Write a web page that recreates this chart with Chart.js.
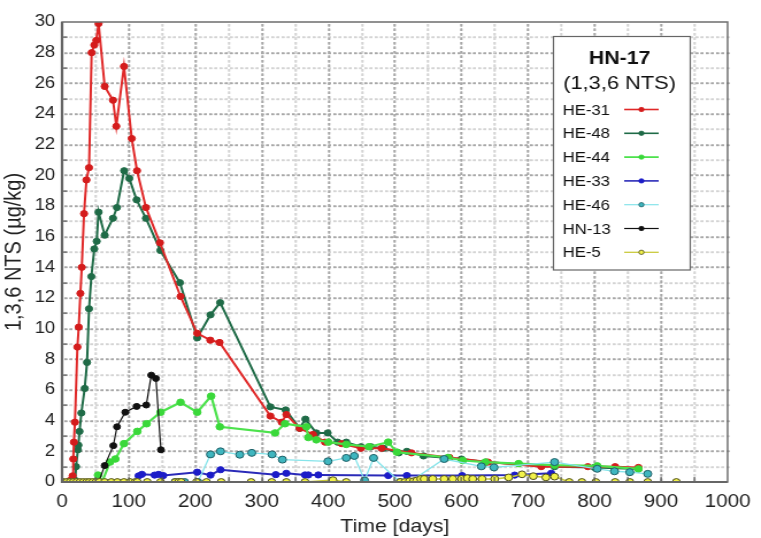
<!DOCTYPE html>
<html><head><meta charset="utf-8">
<script src="https://cdn.jsdelivr.net/npm/chart.js@4"></script>
<style>
html,body{margin:0;padding:0;background:#fff;overflow:hidden;}
#wrap{width:662px;height:538px;transform:scaleX(1.1495);transform-origin:0 0;}
canvas{display:block;}
</style></head><body>
<div id="wrap"><canvas id="c" width="662" height="538"></canvas></div>
<script>
// ---- data (days, µg/kg) ----
const seriesNames = ['HE-31','HE-48','HE-44','HE-33','HE-46','HN-13','HE-5'];
const legendTitle = ['HN-17','(1,3,6 NTS)'];
const xTickValues = [0,100,200,300,400,500,600,700,800,900,1000];
const yTickValues = [0,2,4,6,8,10,12,14,16,18,20,22,24,26,28,30];

const he31Days = [0,12,15.8,16.8,17.8,19.3,23,25,27.5,29.6,33,36.6,40.5,44.4,48.4,51.4,54.8,64,76.5,81.5,93,104.7,112.6,126,147,178,203,222.7,236.6,313,330,337,357,377,395,420,449,480,525,582,640,720,790,831,866];
const he31Vals = [0,0.1,0.4,1.5,2.6,3.9,8.8,10.1,12.3,14.0,17.5,19.7,20.5,28.0,28.5,28.8,29.9,25.8,24.9,23.2,27.1,22.4,20.3,17.9,15.6,12.1,9.7,9.25,9.1,4.3,3.9,4.4,3.5,3.1,2.6,2.5,2.2,2.2,1.9,1.6,1.3,1.0,1.0,1.0,0.95];

const he48Days = [0,19.7,21,23.7,24.5,26.2,29,34,37.5,40.5,44,48.4,52,54.8,64,76.5,82.4,93.3,101,112,126,147.7,177,203,223,237.5,313,336,357,365.6,382,399,414,427,449,464,483,506,518,543,600,637,740,800,866];
const he48Vals = [0,0.1,1.0,2.1,2.4,3.3,4.5,6.1,7.8,11.3,13.4,15.2,15.7,17.6,16.1,17.2,17.9,20.3,19.8,18.4,17.2,15.1,13.0,9.4,10.9,11.7,4.9,4.7,3.5,4.1,3.2,3.2,2.6,2.6,2.3,2.3,2.2,1.9,2.0,1.7,1.5,1.3,1.0,0.95,0.85];

const he44Days = [0,50,54,60,72,80,93,113,127,148,178,203,224,237,320,335,367,370,382,400,427,461,490,503,580,602,636,686,740,804,866];
const he44Vals = [0,0,0.45,0,1.3,1.5,2.5,3.3,3.8,4.55,5.2,4.55,5.6,3.6,3.2,3.8,3.6,2.9,2.75,2.6,2.45,2.3,2.6,1.95,1.6,1.4,1.3,1.2,1.1,1.05,0.85];

const he33Days = [0,110,115,120,139,145,152,203,223,238,321,337,365,370,385,490,518,601,680,735];
const he33Vals = [0,0,0.4,0.5,0.45,0.5,0.42,0.64,0.45,0.8,0.48,0.57,0.46,0.46,0.46,0.42,0.42,0.42,0.45,0.57];

const he46Days = [170,177,184,204,223,238,267,285,315.5,331,399.5,427,439,454.5,468,508,522,574,630,649,740,804,830,853,880];
const he46Vals = [0,0,0,0,1.8,2.0,1.78,1.9,1.8,1.46,1.35,1.57,1.7,0.1,1.57,0,0,1.5,1.02,0.95,1.3,0.86,0.7,0.64,0.53];

const hn13Days = [0,55,64,77,82.5,95,112,126.5,134,141,148.5];
const hn13Vals = [0,0,1.07,2.37,3.6,4.55,4.93,5.02,6.97,6.75,2.1];

const he5Days = [2,7,12,17,22,27,32,37,41,46,51,56,64,74,83,93,102,110,113,128,148,170,175,179,202,217,239,284,315,337,365,407,427,508,515,522,528,533,539,544,557,574,587,600,609,617,631,650,671,691,708,727,740,762,781,802,831,853,880,923];
const he5Vals = [0,0,0,0,0,0,0,0,0,0,0,0,0,0,0,0,0,0,0,0,0,0,0,0,0,0,0,0,0,0,0,0.12,0,0,0,0.05,0.05,0.1,0.2,0.2,0.2,0.2,0.2,0.2,0.25,0.2,0.2,0.2,0.3,0.5,0.38,0.3,0.35,0,0,0,0,0,0,0];

// ---- styles ----
const styles = [
  {line:'#e02828', fill:'#d41c1c', border:'#d41c1c', lw:2, r:3.1},
  {line:'#1f6b47', fill:'#1f6b47', border:'#1f6b47', lw:2, r:3.1},
  {line:'#4de24d', fill:'#3ad83a', border:'#3ad83a', lw:2.2, r:3.3},
  {line:'#2a2ab8', fill:'#1c1cc8', border:'#1c1cc8', lw:2, r:3.1},
  {line:'#86e4ea', fill:'#3fb6bf', border:'#1e5f66', lw:1.3, r:3.5},
  {line:'#111111', fill:'#111111', border:'#111111', lw:1.2, r:3.0},
  {line:'#c9c93a', fill:'#f2f24a', border:'#4d4d1e', lw:1.6, r:3.4}
];
const allDays = [he31Days,he48Days,he44Days,he33Days,he46Days,hn13Days,he5Days];
const allVals = [he31Vals,he48Vals,he44Vals,he33Vals,he46Vals,hn13Vals,he5Vals];
const orders = [5,6,4,3,2,1,0];

const datasets = seriesNames.map((name,i)=>({
  label:name,
  data: allDays[i].map((d,j)=>({x:d,y:allVals[i][j]})),
  showLine:true,
  borderColor:styles[i].line,
  borderWidth:styles[i].lw,
  pointBackgroundColor:styles[i].fill,
  pointBorderColor:styles[i].border,
  pointBorderWidth:1,
  pointRadius:styles[i].r,
  pointHoverRadius:styles[i].r,
  order:orders[i],
  tension:0
}));

const FONT = '"Liberation Sans", Arial, sans-serif';

function yPix(chart, v){
  const a = chart.chartArea, s = chart.scales.y;
  let p = s && s.getPixelForValue ? s.getPixelForValue(v) : NaN;
  if(!isFinite(p)) p = a.bottom - (v - 0) / 30 * (a.bottom - a.top);
  return p;
}
function xPix(chart, v){
  const a = chart.chartArea, s = chart.scales.x;
  let p = s && s.getPixelForValue ? s.getPixelForValue(v) : NaN;
  if(!isFinite(p)) p = a.left + (v - 0) / 1000 * (a.right - a.left);
  return p;
}

function drawGrid(chart){
  const ctx = chart.ctx, a = chart.chartArea;
  if(!a) return;
  ctx.save();
  ctx.globalAlpha = 1;
  for(let v=1; v<30; v++){
    const py = Math.round(yPix(chart, v));
    ctx.fillStyle = v%2===0 ? '#a8a8a8' : '#d4d4d4';
    for(let px=a.left+2; px<a.right; px+=4.5) ctx.fillRect(px, py-0.5, 2.5, 1.6);
  }
  for(let v=50; v<1000; v+=50){
    const px = Math.round(xPix(chart, v));
    ctx.fillStyle = v%100===0 ? '#a8a8a8' : '#d4d4d4';
    for(let py=a.top+2; py<a.bottom; py+=4.5) ctx.fillRect(px-0.5, py, 1.7, 2.5);
  }
  ctx.restore();
}

const gridPlugin = {
  id:'dotgrid',
  beforeDraw(chart){ drawGrid(chart); },
  beforeDatasetsDraw(chart){ drawGrid(chart); }
};

const framePlugin = {
  id:'frame',
  afterDraw(chart){
    const ctx = chart.ctx, a = chart.chartArea;
    ctx.save();
    ctx.fillStyle='#555';
    for(let v=1; v<30; v+=2){
      const py = Math.round(yPix(chart, v));
      ctx.fillRect(a.left, py-0.5, 4.5, 1.2);
    }
    for(let v=50; v<1000; v+=50){
      const px = Math.round(xPix(chart, v));
      ctx.fillRect(px-0.5, a.bottom-5, 1.2, 5);
    }
    ctx.strokeStyle='#6e6e6e'; ctx.lineWidth=1.5;
    ctx.strokeRect(a.left, a.top, a.right-a.left, a.bottom-a.top);
    ctx.strokeStyle='#666'; ctx.lineWidth=2.2;
    ctx.beginPath(); ctx.moveTo(a.left,a.top); ctx.lineTo(a.left,a.bottom); ctx.lineTo(a.right,a.bottom); ctx.stroke();

    // legend
    const bx=481.5, by=36.5, bw=119, bh=233.5;
    ctx.fillStyle='#fff'; ctx.fillRect(bx,by,bw,bh);
    ctx.strokeStyle='#666'; ctx.lineWidth=1.2; ctx.strokeRect(bx,by,bw,bh);
    ctx.fillStyle='#111'; ctx.textAlign='center'; ctx.textBaseline='middle';
    ctx.font='bold 18.5px '+FONT;
    ctx.fillText(legendTitle[0], bx+bw/2-2, 58.5);
    ctx.font='19px '+FONT;
    ctx.fillText(legendTitle[1], bx+bw/2-2, 83.5);
    ctx.textAlign='left'; ctx.font='14.5px '+FONT;
    seriesNames.forEach((n,i)=>{
      const yy = 109.5 + i*23.8;
      ctx.fillStyle='#111';
      ctx.fillText(n, 489.5, yy+1);
      const s = styles[i];
      ctx.strokeStyle=s.line; ctx.lineWidth=Math.max(1.2,s.lw*0.8);
      ctx.beginPath(); ctx.moveTo(543,yy); ctx.lineTo(573,yy); ctx.stroke();
      ctx.beginPath(); ctx.arc(558,yy,2.2,0,Math.PI*2);
      ctx.fillStyle=s.fill; ctx.fill();
      ctx.lineWidth=0.8; ctx.strokeStyle=s.border; ctx.stroke();
    });
    ctx.restore();
  }
};

new Chart(document.getElementById('c'), {
  type:'scatter',
  data:{datasets},
  options:{
    responsive:false,
    animation:false,
    devicePixelRatio:1,
    layout:{padding:{top:22,right:21,left:0,bottom:0}},
    plugins:{legend:{display:false}, tooltip:{enabled:false}},
    scales:{
      x:{
        type:'linear', min:0, max:1000,
        afterBuildTicks(scale){ scale.ticks = xTickValues.map(v=>({value:v})); },
        afterFit(scale){ scale.height = 56; },
        ticks:{
          autoSkip:false, maxRotation:0, padding:9,
          color:'#222', font:{family:FONT,size:18},
          callback:(v)=> String(v)
        },
        grid:{display:false, drawTicks:false},
        border:{display:false},
        title:{display:true, text:'Time [days]', color:'#222', font:{family:FONT,size:18.5}, padding:{top:0,bottom:0}}
      },
      y:{
        min:0, max:30,
        afterBuildTicks(scale){ scale.ticks = yTickValues.map(v=>({value:v})); },
        afterFit(scale){ scale.width = 54; },
        ticks:{padding:6, color:'#222', font:{family:FONT,size:16}},
        grid:{display:false, drawTicks:false},
        border:{display:false},
        title:{display:true, text:'1,3,6 NTS (µg/kg)', color:'#222', font:{family:FONT,size:20}, padding:{top:0,bottom:1}}
      }
    }
  },
  plugins:[gridPlugin, framePlugin]
});
</script>
</body></html>
